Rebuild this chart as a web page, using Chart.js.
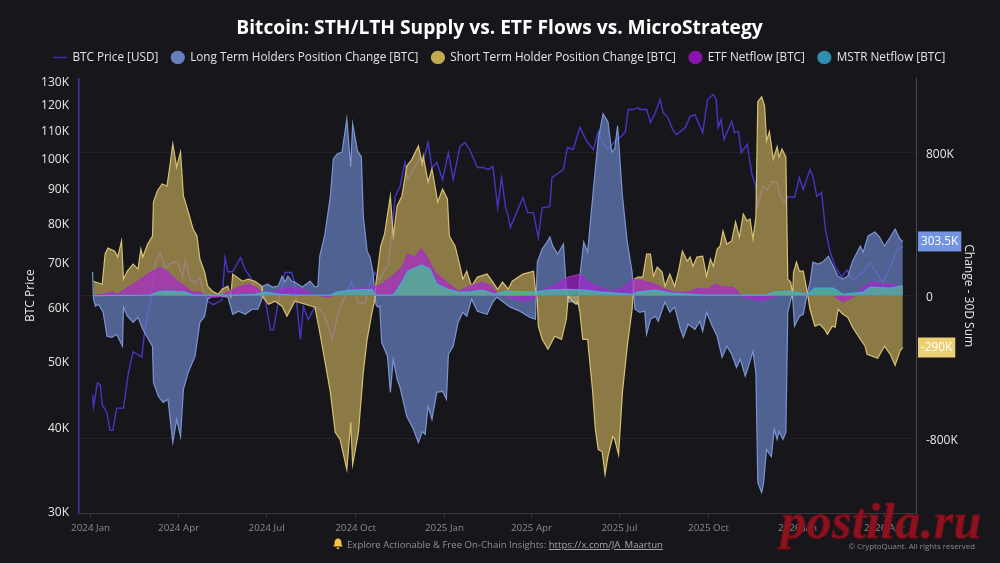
<!DOCTYPE html>
<html>
<head>
<meta charset="utf-8">
<title>Bitcoin: STH/LTH Supply vs. ETF Flows vs. MicroStrategy</title>
<script src="https://cdn.jsdelivr.net/npm/chart.js@4/dist/chart.umd.min.js"></script>
<style>
    html, body { margin: 0; padding: 0; background: #17171b; }
    body { width: 1000px; height: 563px; overflow: hidden; position: relative; font-family: "Open Sans", "Noto Sans", sans-serif; }
    #chartCanvas { position: absolute; left: 0; top: 0; }
    #footerNote { position: absolute; left: 0; width: 996px; top: 538px; text-align: center; font-size: 9.6px; color: #8f8f92; }
    #footerNote a { color: #a5a5a8; text-decoration: underline; }
    #footerNote svg { vertical-align: -2px; margin-right: 4px; }
    #copyright { position: absolute; right: 25px; top: 541px; font-size: 7.9px; color: #8a8a8d; }
    #stamp { position: absolute; left: 781px; top: 492px; font: italic bold 50px "Liberation Serif", serif; color: #8c1220; -webkit-text-stroke: 1px #6e0d18; letter-spacing: 0.5px; }
</style>
</head>
<body>
<canvas id="chartCanvas" width="1000" height="563"></canvas>
<div id="footerNote"><svg width="10" height="12" viewBox="0 0 10 12"><path d="M5 0.5c2.3 0 3.4 1.8 3.4 4 0 2 .6 3 1.4 4H.2c.8-1 1.4-2 1.4-4 0-2.2 1.1-4 3.4-4zM3.6 9.6h2.8c0 1-.6 1.7-1.4 1.7s-1.4-.7-1.4-1.7z" fill="#f4c63f"/></svg>Explore Actionable &amp; Free On-Chain Insights: <a href="#">https://x.com/JA_Maartun</a></div>
<div id="copyright">© CryptoQuant. All rights reserved</div>
<div id="stamp">postila.ru</div>
<script>
// all series: x = days since 2024-01-01, price in thousand USD, flows in thousand BTC
const tickDays = [0, 91, 182, 274, 366, 456, 547, 639, 731, 821];
const tickLabels = ["2024 Jan", "2024 Apr", "2024 Jul", "2024 Oct", "2025 Jan", "2025 Apr", "2025 Jul", "2025 Oct", "2026 Jan", "2026 Apr"];
const priceTicks = [30, 40, 50, 60, 70, 80, 90, 100, 110, 120, 130];
const changeTicks = [-800, 0, 800];

const priceDays = [2,3,7,10,12,17,20,23,27,34,39,44,53,56,62,67,72,77,84,90,95,98,103,108,113,116,121,127,136,139,142,147,155,160,165,172,180,186,189,194,201,208,211,217,220,225,232,237,242,250,256,260,270,277,284,289,294,299,304,308,312,315,320,325,328,341,344,349,353,358,364,370,375,382,387,392,400,406,411,416,421,425,429,432,434,441,447,452,458,463,467,475,477,489,493,499,506,513,520,525,527,535,544,549,553,556,561,566,568,575,579,584,589,592,597,602,606,615,620,625,633,638,644,647,649,652,655,663,666,670,673,679,684,688,690,695,700,705,710,713,718,721,728,733,737,744,747,751,756,760,765,770,777,782,788,793,799,806,813,819,827,834,840];
const priceValues = [44.5,42.8,46.4,46.1,43.1,41.9,39.5,39.5,42.6,42.6,48,51.6,50.7,55.6,61.6,70.1,72.3,68.7,69.9,70.1,66.6,70.6,65.9,65.3,66.4,63.8,61.3,60.6,61.6,71.1,67.8,67.8,71.1,68.2,66.6,63.1,62.3,55.6,55.6,61,67.6,67.6,65.3,53.8,60.2,57.6,60.2,59.6,58.5,53.8,59,61,65.5,61,61,65.3,67.6,65.9,68.2,69.4,79,87.6,90.6,98.3,92.8,100,98.7,105.3,96.7,98.3,92.8,101.7,92.8,103.9,105.3,102.8,96.7,96.7,96,97,84.3,93.4,84.6,81.8,78.8,83.2,87.3,82.9,82.9,76.1,84.3,84.6,93.4,96,103.5,102.8,110.8,105.7,102.8,109.3,107.1,102.8,106.4,107.5,109.3,117.8,117.8,118.6,117.8,117.8,112.7,116.6,121.9,116.6,114.6,110,108.2,110.8,115,115.8,108.9,121.9,124,121.9,110.8,113.9,106.4,113.1,108.9,109.3,101.7,104.6,94.4,90.6,84.6,90.6,89.7,92.2,91.8,87.6,85.8,87.6,87.3,93.4,89.7,96,93.7,87.6,88.8,78.2,72.3,69,66.6,68.2,65.9,66.6,67.8,69.9,67.6,65.3,69,73.1,73.8];

const lthDays = [2,3,5,8,13,17,22,27,33,34,38,44,49,54,58,64,65,70,75,80,85,89,93,96,101,108,113,118,121,126,136,142,147,153,160,167,173,177,178,183,188,194,198,201,204,208,211,219,227,232,235,237,242,248,251,255,260,265,269,271,276,280,282,286,289,292,294,295,297,299,301,307,310,313,317,320,327,333,339,343,346,349,353,358,364,368,370,375,380,385,389,394,400,410,416,420,423,434,444,454,460,462,467,472,475,478,483,489,492,494,501,504,506,508,510,514,520,525,530,535,539,542,545,550,555,560,561,563,568,573,575,579,584,587,594,599,604,610,613,618,625,630,633,637,643,648,653,658,663,668,672,677,680,685,688,690,694,696,699,704,707,710,712,716,719,721,725,726,728,733,737,741,744,747,752,757,763,768,773,778,783,788,796,799,804,811,816,821,827,832,837,840];
const lthValues = [132,-20,-59,-48,-93,-227,-233,-216,-283,-64,-115,-149,-121,-188,-227,-283,-485,-563,-597,-580,-821,-692,-788,-524,-429,-339,-149,-115,-20,-3,-3,-8,-104,-87,-104,-76,-76,-20,53,64,48,53,109,76,109,81,76,48,81,48,53,221,334,558,765,793,804,989,720,961,810,776,446,249,216,132,8,-48,-64,-59,-261,-339,-541,-356,-468,-513,-676,-737,-821,-760,-776,-619,-692,-541,-535,-580,-328,-283,-149,-93,-115,-20,-87,-104,-36,-8,-20,-64,-87,-121,-132,188,261,300,328,277,233,289,36,-36,-31,-48,109,205,300,244,597,877,1018,973,804,821,950,558,300,132,53,-76,-93,-87,-216,-132,-115,-143,-36,-93,-64,-188,-233,-160,-188,-143,-199,-93,-171,-227,-345,-283,-328,-401,-356,-451,-401,-311,-429,-1046,-1102,-1046,-861,-900,-748,-804,-760,-804,-765,-93,-3,-8,-171,-115,-104,8,76,188,177,188,221,165,109,93,109,193,277,244,334,356,328,277,328,373,317,303.5];

const sthDays = [3,12,15,18,25,28,32,34,38,44,49,52,54,59,64,65,69,74,79,82,85,89,93,96,101,106,110,113,118,121,126,132,136,142,145,147,157,163,170,177,178,184,191,198,203,208,211,222,232,237,242,248,253,258,265,269,271,277,282,286,291,294,295,300,304,310,313,317,322,327,332,339,343,344,349,353,359,364,369,371,377,382,385,389,394,400,410,416,421,426,432,436,447,458,460,462,463,467,473,480,487,492,494,498,502,504,506,509,514,519,522,525,529,532,535,540,542,546,550,555,560,561,562,566,571,575,579,582,586,591,594,599,604,608,612,617,620,623,627,633,637,641,644,648,651,654,658,663,667,671,675,679,682,685,688,690,694,697,699,702,706,710,712,715,719,721,724,726,727,730,733,737,741,744,749,754,759,762,767,770,773,778,783,788,796,801,803,814,821,827,832,837,840];
const sthValues = [81,64,233,266,249,216,306,92,137,177,149,261,216,289,334,524,586,625,614,726,849,720,804,558,468,373,334,205,132,53,25,8,36,53,-3,121,81,92,81,53,-8,-48,-31,-59,-115,-64,-31,-48,-64,-205,-356,-541,-765,-804,-973,-709,-945,-765,-429,-244,-93,-20,64,277,345,558,334,502,558,726,760,838,737,782,636,709,524,597,541,334,277,165,92,137,53,104,121,76,36,76,36,81,121,137,36,-20,-171,-244,-300,-227,-244,-132,-3,-31,-48,-36,-93,-244,-244,-524,-748,-861,-872,-1001,-900,-788,-804,-889,-541,-283,-76,-3,93,104,104,233,233,109,160,132,53,121,53,137,249,193,216,165,216,221,109,205,165,261,277,362,289,306,412,328,457,418,429,317,440,1085,1113,1062,866,917,765,833,776,821,776,92,76,8,132,188,137,137,25,-76,-171,-160,-188,-216,-171,-177,-76,-104,-121,-177,-244,-283,-328,-350,-283,-328,-390,-311,-290];

const etfDays = [3,12,22,28,39,49,59,72,80,90,98,105,113,118,124,132,142,153,163,170,177,188,201,211,222,232,246,255,270,291,301,312,322,328,335,342,348,356,367,380,391,405,415,421,429,436,446,454,460,467,477,485,494,506,514,525,539,553,561,573,584,594,604,618,628,638,646,654,664,672,675,692,706,716,741,768,778,790,799,809,819,834,840];
const etfValues = [3,8,20,8,48,81,121,160,132,81,53,20,20,3,-8,-8,20,48,64,48,20,20,42,48,31,3,-8,8,36,48,64,109,160,233,216,261,216,132,81,25,53,76,53,8,-3,-14,-31,-25,-8,25,53,76,104,121,81,53,25,53,93,81,64,36,20,20,42,36,64,48,48,8,-8,-31,-8,8,8,3,-36,-3,48,81,64,64,36];

const mstrDays = [3,62,69,77,98,106,155,170,180,196,211,248,255,268,291,294,313,316,322,328,342,351,358,370,380,391,405,418,429,460,473,494,511,529,560,566,584,601,635,699,706,723,741,749,768,778,799,806,827,837,840];
const mstrValues = [0,3,20,25,20,3,3,8,20,8,3,3,20,31,36,3,3,25,76,137,171,149,64,36,20,20,31,8,25,20,31,36,31,20,8,20,31,14,3,3,20,25,8,42,42,8,20,48,42,53,53];

// colours of the legend dots
const legendColors = ["#3c2fa8", "#6580bf", "#c2a94f", "#8a12ad", "#2f8fae"];

function toPoints(days, values) {
    return days.map((day, index) => ({ x: day, y: values[index] }));
}

function areaSet(label, days, values, line, fill, order) {
    return {
        label: label,
        data: toPoints(days, values),
        yAxisID: "y1",
        borderColor: line,
        backgroundColor: fill,
        borderWidth: 1.2,
        pointRadius: 0,
        pointStyle: "circle",
        fill: "origin",
        tension: 0,
        order: order
    };
}

// value boxes beside the right axis
const lastValueBoxes = {
    id: "lastValueBoxes",
    afterDraw(chart) {
        const ctx = chart.ctx;
        const scale = chart.scales.y1;
        const boxes = [
            { value: lthValues[lthValues.length - 1], color: "#7393e3" },
            { value: sthValues[sthValues.length - 1], color: "#ecd174" }
        ];
        ctx.save();
        ctx.font = "11.8px 'Open Sans'";
        ctx.textBaseline = "middle";
        ctx.textAlign = "center";
        boxes.forEach(box => {
            const text = box.value + "K";
            const y = scale.getPixelForValue(box.value);
            const width = ctx.measureText(text).width + 6;
            ctx.fillStyle = box.color;
            ctx.fillRect(chart.chartArea.right + 2, y - 10, width, 20);
            ctx.fillStyle = "#ffffff";
            ctx.fillText(text, chart.chartArea.right + 2 + width / 2, y);
        });
        ctx.restore();
    }
};

// more room below the legend, and y tick labels sit a little lower
const layoutTweaks = {
    id: "layoutTweaks",
    beforeInit(chart) {
        const fit = chart.legend.fit;
        chart.legend.fit = function () {
            fit.call(this);
            this.height += 5;
        };
    },
    beforeDraw(chart) {
        [chart.scales.y, chart.scales.y1].forEach(scale => {
            scale.getLabelItems().forEach(item => {
                item.options.translation[1] += 1.5;
            });
        });
    }
};

new Chart(document.getElementById("chartCanvas"), {
    type: "line",
    data: {
        datasets: [
            {
                label: "BTC Price [USD]",
                data: toPoints(priceDays, priceValues),
                yAxisID: "y",
                borderColor: "#4636c4",
                backgroundColor: "#4636c4",
                borderWidth: 1.4,
                pointRadius: 0,
                pointStyle: "line",
                tension: 0,
                order: 5
            },
            areaSet("Long Term Holders Position Change [BTC]", lthDays, lthValues, "rgba(128,153,215,0.95)", "rgba(101,128,191,0.72)", 4),
            areaSet("Short Term Holder Position Change [BTC]", sthDays, sthValues, "rgba(222,200,116,0.95)", "rgba(194,169,90,0.68)", 3),
            areaSet("ETF Netflow [BTC]", etfDays, etfValues, "rgba(165,50,195,0.8)", "rgba(170,35,215,0.68)", 2),
            areaSet("MSTR Netflow [BTC]", mstrDays, mstrValues, "rgba(70,170,225,0.95)", "rgba(75,185,150,0.8)", 1)
        ]
    },
    options: {
        responsive: false,
        animation: false,
        devicePixelRatio: 1,
        layout: { padding: { left: 23, right: 24, top: 0, bottom: 0 } },
        plugins: {
            title: {
                display: true,
                text: "Bitcoin: STH/LTH Supply vs. ETF Flows vs. MicroStrategy",
                color: "#ffffff",
                font: { family: "'Open Sans'", size: 19.2, weight: "bold", lineHeight: 1 },
                padding: { top: 19.4, bottom: 0 }
            },
            legend: {
                labels: {
                    color: "#e4e4e4",
                    font: { family: "'Open Sans'", size: 11.75 },
                    usePointStyle: true,
                    boxHeight: 8.5,
                    pointStyleWidth: 13,
                    padding: 13,
                    sort: (a, b) => a.datasetIndex - b.datasetIndex,
                    generateLabels(chart) {
                        const items = Chart.defaults.plugins.legend.labels.generateLabels(chart);
                        items.forEach(item => {
                            item.fillStyle = legendColors[item.datasetIndex];
                            item.strokeStyle = legendColors[item.datasetIndex];
                        });
                        return items;
                    }
                }
            },
            tooltip: { enabled: false }
        },
        scales: {
            x: {
                type: "linear",
                min: -12,
                max: 853.6,
                afterFit(scale) { scale.height = 50; },
                afterBuildTicks(scale) { scale.ticks = tickDays.map(day => ({ value: day })); },
                grid: { drawOnChartArea: false, color: "#3a3a3e", tickLength: 4 },
                border: { color: "#38383c" },
                ticks: {
                    color: "#8a8a8d",
                    font: { family: "'Open Sans'", size: 9.8 },
                    maxRotation: 0,
                    autoSkip: false,
                    padding: 5,
                    callback: value => tickLabels[tickDays.indexOf(value)]
                }
            },
            y: {
                type: "logarithmic",
                position: "left",
                min: 29.8,
                max: 131,
                afterFit(scale) { scale.width = 56; },
                afterBuildTicks(scale) { scale.ticks = priceTicks.map(value => ({ value: value })); },
                title: { display: true, text: "BTC Price", color: "#e6e6e6", font: { family: "'Open Sans'", size: 12 }, padding: 0 },
                grid: { display: false },
                border: { color: "#43339f", width: 1.5 },
                ticks: {
                    color: "#e6e6e6",
                    font: { family: "'Open Sans'", size: 12 },
                    padding: 2,
                    autoSkip: false,
                    callback: value => value + "K"
                }
            },
            y1: {
                type: "linear",
                position: "right",
                min: -1216,
                max: 1216,
                afterFit(scale) { scale.width = 60; },
                afterBuildTicks(scale) { scale.ticks = changeTicks.map(value => ({ value: value })); },
                title: { display: true, text: "Change - 30D Sum", color: "#e6e6e6", font: { family: "'Open Sans'", size: 12 }, padding: 0 },
                grid: { color: "rgba(255,255,255,0.045)", drawTicks: false },
                border: { color: "#4c4c50" },
                ticks: {
                    color: "#e6e6e6",
                    font: { family: "'Open Sans'", size: 12 },
                    padding: 10,
                    callback: value => value + (value === 0 ? "" : "K")
                }
            }
        }
    },
    plugins: [lastValueBoxes, layoutTweaks]
});
</script>
</body>
</html>
